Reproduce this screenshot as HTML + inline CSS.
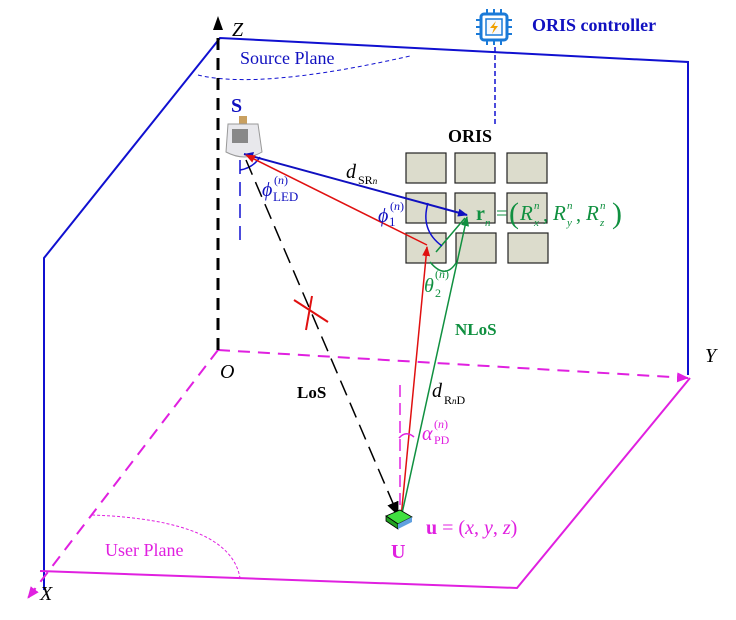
<!DOCTYPE html>
<html><head><meta charset="utf-8"><style>
html,body{margin:0;padding:0;background:#fff}
svg text{font-family:"Liberation Serif",serif}
</style></head><body>
<svg width="736" height="615" viewBox="0 0 736 615" xmlns="http://www.w3.org/2000/svg">
<defs>
<marker id="ab" markerWidth="10" markerHeight="8" refX="9" refY="4" orient="auto" markerUnits="userSpaceOnUse"><path d="M0,0 L10,4 L0,8z" fill="#1010c0"/></marker>
<marker id="ar" markerWidth="10" markerHeight="8" refX="9" refY="4" orient="auto" markerUnits="userSpaceOnUse"><path d="M0,0 L10,4 L0,8z" fill="#e01010"/></marker>
<marker id="ag" markerWidth="10" markerHeight="8" refX="9" refY="4" orient="auto" markerUnits="userSpaceOnUse"><path d="M0,0 L10,4 L0,8z" fill="#109040"/></marker>
<marker id="ak" markerWidth="14" markerHeight="12" refX="13" refY="6" orient="auto" markerUnits="userSpaceOnUse"><path d="M0,0 L14,6 L0,12z" fill="#000"/></marker>
<marker id="am" markerWidth="12" markerHeight="10" refX="11" refY="5" orient="auto" markerUnits="userSpaceOnUse"><path d="M0,0 L12,5 L0,10z" fill="#e020e0"/></marker>
</defs>
<polyline points="44,590 44,258 220,38 688,62 688,375" fill="none" stroke="#1010d0" stroke-width="2"/>
<path d="M198,75 Q260,90 410,56" fill="none" stroke="#1010d0" stroke-dasharray="4,3"/>
<text x="240" y="64" font-size="18" fill="#1010c0">Source Plane</text>
<polyline points="40,571 517,588 690,378" fill="none" stroke="#e020e0" stroke-width="2"/>
<line x1="218" y1="350" x2="688" y2="378" stroke="#e020e0" stroke-width="2" stroke-dasharray="12,8" marker-end="url(#am)"/>
<line x1="218" y1="350" x2="28" y2="598" stroke="#e020e0" stroke-width="2" stroke-dasharray="12,8" marker-end="url(#am)"/>
<path d="M92,515 Q230,520 240,578" fill="none" stroke="#e020e0" stroke-dasharray="3,2"/>
<text x="105" y="556" font-size="18" fill="#e020e0">User Plane</text>
<line x1="218" y1="350" x2="218" y2="22" stroke="#000" stroke-width="3" stroke-dasharray="12,8"/>
<path d="M213,30 L218,16 L223,30z" fill="#000"/>
<text x="232" y="36" font-size="20" font-style="italic">Z</text>
<text x="705" y="362" font-size="20" font-style="italic">Y</text>
<text x="40" y="600" font-size="20" font-style="italic">X</text>
<text x="220" y="378" font-size="20" font-style="italic">O</text>
<rect x="481" y="14" width="26" height="26" rx="3" fill="#fff" stroke="#1a7ad8" stroke-width="3"/>
<rect x="486" y="19" width="16" height="16" fill="#f4f8ff" stroke="#1a7ad8" stroke-width="1.5"/>
<path d="M496,21 L490,28 L494,28 L492,34 L498,26 L494,26z" fill="#f0a000"/>
<g stroke="#1a7ad8" stroke-width="2"><line x1="487" y1="9" x2="487" y2="14"/><line x1="494" y1="9" x2="494" y2="14"/><line x1="501" y1="9" x2="501" y2="14"/><line x1="487" y1="40" x2="487" y2="45"/><line x1="494" y1="40" x2="494" y2="45"/><line x1="501" y1="40" x2="501" y2="45"/><line x1="476" y1="20" x2="481" y2="20"/><line x1="476" y1="27" x2="481" y2="27"/><line x1="476" y1="34" x2="481" y2="34"/><line x1="507" y1="20" x2="512" y2="20"/><line x1="507" y1="27" x2="512" y2="27"/><line x1="507" y1="34" x2="512" y2="34"/></g>
<text x="532" y="31" font-size="18" font-weight="bold" fill="#1010c0">ORIS controller</text>
<line x1="495" y1="47" x2="495" y2="125" stroke="#1010d0" stroke-width="1.5" stroke-dasharray="5,3"/>
<text x="448" y="142" font-size="18" font-weight="bold">ORIS</text>
<g fill="#dcdccc" stroke="#222" stroke-width="1.2">
<rect x="406" y="153" width="40" height="30"/><rect x="455" y="153" width="40" height="30"/><rect x="507" y="153" width="40" height="30"/>
<rect x="406" y="193" width="40" height="30"/><rect x="455" y="193" width="40" height="30"/><rect x="507" y="193" width="40" height="30"/>
<rect x="406" y="233" width="40" height="30"/><rect x="456" y="233" width="40" height="30"/><rect x="508" y="233" width="40" height="30"/>
</g>
<text x="231" y="112" font-size="20" font-weight="bold" fill="#1010c0" font-family="Liberation Sans">S</text>
<rect x="239" y="116" width="8" height="8" fill="#c9a060"/>
<path d="M228,124 L258,124 L262,152 Q245,162 226,152z" fill="#e8e8ec" stroke="#999"/>
<rect x="232" y="129" width="16" height="14" fill="#888"/>
<line x1="240" y1="160" x2="240" y2="248" stroke="#1010d0" stroke-width="1.5" stroke-dasharray="14,8"/>
<path d="M240,170 Q253,168 260,157" fill="none" stroke="#1010d0" stroke-width="1.5"/>
<line x1="244" y1="154" x2="467" y2="215" stroke="#1010c0" stroke-width="2" marker-end="url(#ab)"/>
<path d="M244,154 L254,152 L252,159z" fill="#1010c0"/>
<line x1="427" y1="245" x2="246" y2="155" stroke="#e01010" stroke-width="1.5" marker-end="url(#ar)"/>
<line x1="401" y1="518" x2="427" y2="247" stroke="#e01010" stroke-width="1.5" marker-end="url(#ar)"/>
<line x1="401" y1="518" x2="467" y2="217" stroke="#109040" stroke-width="1.5" marker-end="url(#ag)"/>
<line x1="436" y1="252" x2="465" y2="218" stroke="#109040" stroke-width="1.5"/>
<path d="M428,203 Q420,230 442,246" fill="none" stroke="#1010d0" stroke-width="1.5"/>
<path d="M430,262 Q445,280 456,263" fill="none" stroke="#109040" stroke-width="1.5"/>
<line x1="246" y1="160" x2="398" y2="515" stroke="#000" stroke-width="1.5" stroke-dasharray="16,8" marker-end="url(#ak)"/>
<line x1="294" y1="300" x2="328" y2="322" stroke="#e01010" stroke-width="2"/>
<line x1="312" y1="296" x2="306" y2="330" stroke="#e01010" stroke-width="2"/>
<line x1="400" y1="385" x2="400" y2="512" stroke="#e020e0" stroke-width="1.5" stroke-dasharray="12,6"/>
<path d="M399,438 Q406,430 414,437" fill="none" stroke="#e020e0" stroke-width="1.5"/>
<path d="M386,516 L400,510 L412,517 L398,524z" fill="#40e040" stroke="#000" stroke-width="0.8"/>
<path d="M386,516 L398,524 L398,529 L386,521z" fill="#20a020" stroke="#000" stroke-width="0.8"/>
<path d="M398,524 L412,517 L412,522 L398,529z" fill="#60a0e0"/>
<text x="346" y="178" font-size="20" font-style="italic">d</text><text x="358" y="184" font-size="12">SR<tspan font-style="italic" font-size="9">n</tspan></text>
<text x="262" y="196" font-size="20" font-style="italic" fill="#1010c0">ϕ</text><text x="274" y="184" font-size="12" fill="#1010c0">(<tspan font-style="italic">n</tspan>)</text><text x="273" y="201" font-size="13" fill="#1010c0">LED</text>
<text x="378" y="222" font-size="20" font-style="italic" fill="#1010c0">ϕ</text><text x="390" y="210" font-size="12" fill="#1010c0">(<tspan font-style="italic">n</tspan>)</text><text x="389" y="226" font-size="13" fill="#1010c0">1</text>
<g fill="#109040">
<text x="476" y="220" font-size="20" font-weight="bold">r</text>
<text x="485" y="226" font-size="11" font-style="italic">n</text>
<text x="496" y="220" font-size="20">=</text>
<text x="509" y="223" font-size="30">(</text>
<text x="520" y="220" font-size="21" font-style="italic">R</text>
<text x="534" y="209" font-size="11" font-style="italic">n</text>
<text x="534" y="226" font-size="11" font-style="italic">x</text>
<text x="543" y="221" font-size="20">,</text>
<text x="553" y="220" font-size="21" font-style="italic">R</text>
<text x="567" y="209" font-size="11" font-style="italic">n</text>
<text x="567" y="226" font-size="11" font-style="italic">y</text>
<text x="576" y="221" font-size="20">,</text>
<text x="586" y="220" font-size="21" font-style="italic">R</text>
<text x="600" y="209" font-size="11" font-style="italic">n</text>
<text x="600" y="226" font-size="11" font-style="italic">z</text>
<text x="612" y="223" font-size="30">)</text>
</g>
<text x="424" y="292" font-size="20" font-style="italic" fill="#109040">θ</text><text x="435" y="278" font-size="12" fill="#109040">(<tspan font-style="italic">n</tspan>)</text><text x="435" y="297" font-size="12" fill="#109040">2</text>
<text x="455" y="335" font-size="17" font-weight="bold" fill="#109040">NLoS</text>
<text x="297" y="398" font-size="17" font-weight="bold">LoS</text>
<text x="432" y="397" font-size="20" font-style="italic">d</text><text x="444" y="404" font-size="12">R<tspan font-style="italic" font-size="9">n</tspan>D</text>
<text x="422" y="440" font-size="20" font-style="italic" fill="#e020e0">α</text><text x="434" y="428" font-size="12" fill="#e020e0">(<tspan font-style="italic">n</tspan>)</text><text x="434" y="444" font-size="12" fill="#e020e0">PD</text>
<text x="426" y="534" font-size="20" fill="#e020e0"><tspan font-weight="bold">u</tspan> = (<tspan font-style="italic">x</tspan>, <tspan font-style="italic">y</tspan>, <tspan font-style="italic">z</tspan>)</text>
<text x="391" y="558" font-size="20" font-weight="bold" fill="#e020e0">U</text>
</svg>
</body></html>
